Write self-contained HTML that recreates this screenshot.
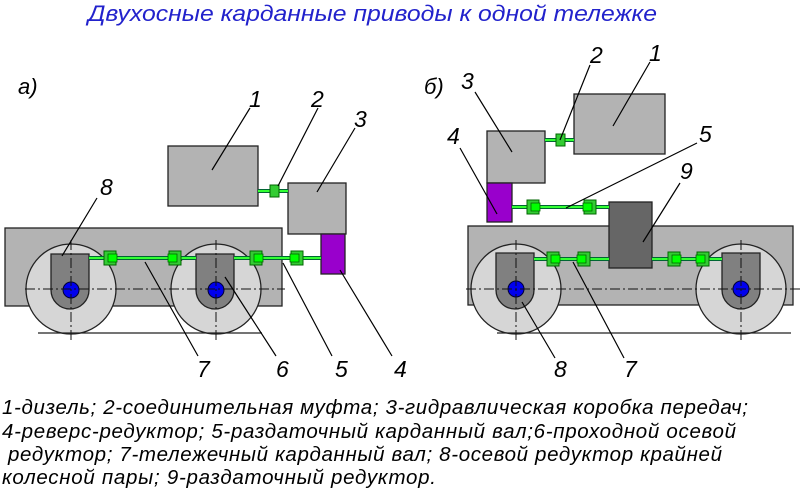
<!DOCTYPE html>
<html><head><meta charset="utf-8"><style>
body{margin:0;background:#fff;width:800px;height:492px;overflow:hidden}
svg text{font-family:"Liberation Sans",sans-serif;font-style:italic}
</style></head><body>
<svg width="800" height="492" viewBox="0 0 800 492">
<defs>
<g id="j"><rect x="-6" y="-7" width="12" height="14" fill="#3c3" stroke="#060" stroke-width="1"/><rect x="-2" y="-4" width="9" height="8" fill="#0f0" stroke="#060" stroke-width="0.8"/></g>
</defs>
<text x="88" y="21" font-size="22" fill="#2222cc" textLength="569" lengthAdjust="spacingAndGlyphs">Двухосные карданные приводы к одной тележке</text>
<g font-size="22" fill="#000">
<text x="18" y="94">а)</text><text x="424" y="94">б)</text>
</g>
<g stroke="#222" stroke-width="1.3">
<rect x="5" y="228" width="277" height="78" fill="#b3b3b3"/>
<rect x="168" y="146" width="90" height="60" fill="#b3b3b3"/>
<rect x="288" y="183" width="58" height="51" fill="#b3b3b3"/>
<rect x="321" y="234" width="24" height="40" fill="#9900cc"/>
<circle cx="71" cy="289" r="45" fill="#d6d6d6"/>
<circle cx="216" cy="289" r="45" fill="#d6d6d6"/>
<path d="M51 254H89V290A19 19 0 0 1 51 290Z" fill="#808080"/>
<path d="M196 254H234V290A19 19 0 0 1 196 290Z" fill="#808080"/>
<rect x="468" y="226" width="325" height="79" fill="#b3b3b3"/>
<rect x="574" y="94" width="91" height="60" fill="#b3b3b3"/>
<rect x="487" y="131" width="58" height="52" fill="#b3b3b3"/>
<rect x="487" y="183" width="25" height="39" fill="#9900cc"/>
<rect x="609" y="202" width="43" height="66" fill="#666"/>
<circle cx="516" cy="289" r="45" fill="#d6d6d6"/>
<circle cx="741" cy="289" r="45" fill="#d6d6d6"/>
<path d="M496 253H534V290A19 19 0 0 1 496 290Z" fill="#808080"/>
<path d="M722 253H760V290A19 19 0 0 1 722 290Z" fill="#808080"/>
</g>
<g fill="#0000ee" stroke="#003" stroke-width="1">
<circle cx="71" cy="290" r="8"/><circle cx="216" cy="290" r="8"/>
<circle cx="516" cy="289" r="8"/><circle cx="741" cy="289" r="8"/>
</g>
<g stroke="#063" stroke-width="4"><path d="M89 258H196M234 258H321M258 191H288M512 207H609M534 259H609M652 259H722M545 140H574"/></g>
<g stroke="#3f3" stroke-width="2"><path d="M89 258H196M234 258H321M258 191H288M512 207H609M534 259H609M652 259H722M545 140H574"/></g>
<use href="#j" x="110" y="258"/><use href="#j" x="175" y="258" transform="rotate(180 175 258)"/>
<use href="#j" x="256" y="258"/><use href="#j" x="297" y="258" transform="rotate(180 297 258)"/>
<use href="#j" x="533" y="207"/><use href="#j" x="590" y="207" transform="rotate(180 590 207)"/>
<use href="#j" x="553" y="259"/><use href="#j" x="584" y="259" transform="rotate(180 584 259)"/>
<use href="#j" x="674" y="259"/><use href="#j" x="703" y="259" transform="rotate(180 703 259)"/>
<rect x="270" y="185" width="9" height="12" fill="#3c3" stroke="#060"/>
<rect x="556" y="134" width="9" height="12" fill="#3c3" stroke="#060"/>
<g stroke="#111" stroke-width="1" stroke-dasharray="10,3,2,3" fill="none">
<path d="M25 289H285M71 240V342M216 240V342M466 289H800M516 240V342M741 240V342"/>
</g>
<g stroke="#222" stroke-width="1.3"><path d="M38 333H262M497 333H791"/></g>
<g stroke="#000" stroke-width="1.2">
<path d="M250 108L212 170M318 108L278 186M355 128L317 192M97 198L62 256M198 356L145 262M276 356L225 277M332 356L283 263M392 356L340 270"/>
<path d="M590 65L560 140M650 62L613 126M475 92L512 152M460 148L497 214M697 143L566 208M680 183L643 242M555 358L522 302M624 358L573 262"/>
</g>
<g font-size="23" fill="#000">
<text x="249" y="107">1</text><text x="311" y="107">2</text><text x="354" y="127">3</text>
<text x="100" y="195">8</text><text x="197" y="377">7</text><text x="276" y="377">6</text>
<text x="335" y="377">5</text><text x="394" y="377">4</text>
<text x="590" y="63">2</text><text x="649" y="61">1</text><text x="461" y="89">3</text>
<text x="447" y="144">4</text><text x="699" y="142">5</text><text x="680" y="179">9</text>
<text x="554" y="377">8</text><text x="624" y="377">7</text>
</g>
<g font-size="20.5" fill="#000" lengthAdjust="spacingAndGlyphs">
<text x="2" y="414" textLength="746">1-дизель; 2-соединительная муфта; 3-гидравлическая коробка передач;</text>
<text x="2" y="438" textLength="734">4-реверс-редуктор; 5-раздаточный карданный вал;6-проходной осевой</text>
<text x="8" y="461" textLength="714">редуктор; 7-тележечный карданный вал; 8-осевой редуктор крайней</text>
<text x="2" y="484" textLength="434">колесной пары; 9-раздаточный редуктор.</text>
</g>
</svg>
</body></html>
